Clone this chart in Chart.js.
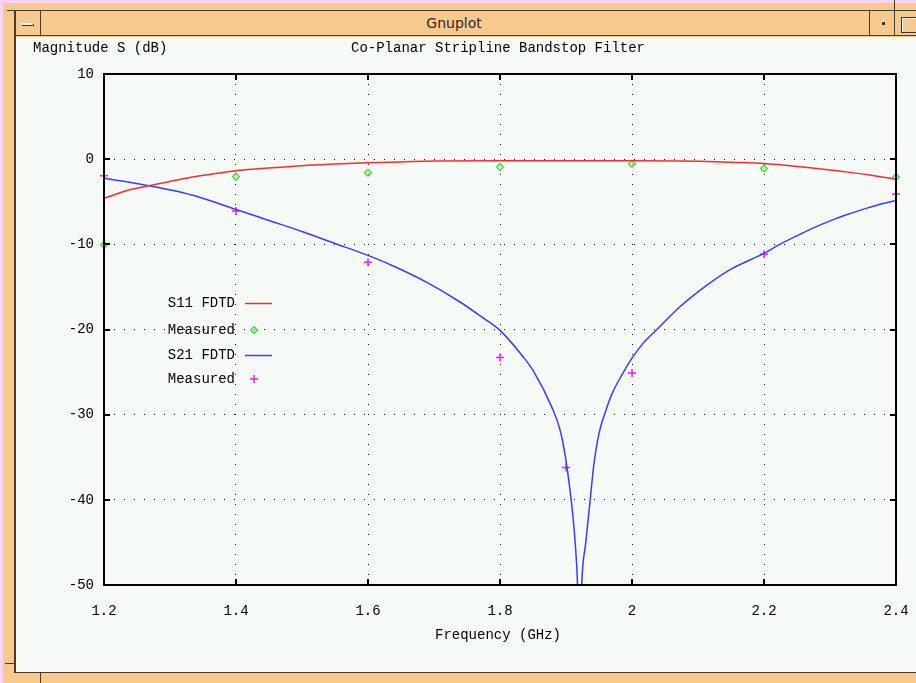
<!DOCTYPE html>
<html>
<head>
<meta charset="utf-8">
<title>Gnuplot</title>
<script src="https://cdn.jsdelivr.net/npm/chart.js@4.4.1/dist/chart.umd.min.js"></script>
<style>
  html, body { margin: 0; padding: 0; }
  body { width: 916px; height: 683px; position: relative; overflow: hidden; background: #f4d7ef; }
  .frame { position: absolute; left: 3px; top: 3px; width: 913px; height: 680px; background: #f8c98e; }
  .hline { position: absolute; height: 1px; background: #4a3a2a; }
  .vline { position: absolute; width: 1px; background: #4a3a2a; }
  .titlebar { position: absolute; left: 16px; top: 11px; width: 900px; height: 24px; background: #f8c98e;
              font: 14px "DejaVu Sans", sans-serif; color: #2a2a2a; text-align: center; line-height: 24px; }
  .titlebar span { position: relative; left: -12px; }
  .content { position: absolute; left: 16px; top: 37px; width: 900px; height: 635px; background: #f5faf6; }
  .btnmin { position: absolute; left: 21px; top: 23px; width: 12px; height: 2px; background: #f3f3f3;
            box-shadow: 1px 1px 0 #333; }
  .btnico { position: absolute; left: 882px; top: 22px; width: 3px; height: 3px; background: #333;
            box-shadow: -1px -1px 0 #fff; }
  .btnmax { position: absolute; left: 901px; top: 17px; width: 14px; height: 14px; border: 1px solid #333;
            box-shadow: inset 1px 1px 0 #fff; }
  .mark { position: absolute; background: #4a3a2a; }
  canvas { display: block; }
</style>
</head>
<body>
<div class="frame"></div>
<div class="hline" style="left:7px; top:10px; width:909px;"></div>
<div class="titlebar"><span>Gnuplot</span></div>
<div class="hline" style="left:14px; top:35px; width:902px;"></div>
<div class="vline" style="left:40px; top:10px; height:26px;"></div>
<div class="vline" style="left:869px; top:10px; height:26px;"></div>
<div class="vline" style="left:894px; top:0px; height:36px;"></div>
<div class="btnmin"></div>
<div class="btnico"></div>
<div class="btnmax"></div>
<div class="vline" style="left:14px; top:10px; width:2px; height:663px;"></div>
<div class="hline" style="left:14px; top:672px; width:902px;"></div>
<div class="mark" style="left:5px; top:663px; width:9px; height:1px;"></div>
<div class="mark" style="left:40px; top:673px; width:1px; height:10px;"></div>
<div class="content"><canvas id="c" width="900" height="635"></canvas></div>

<script>
// S11 from the FDTD simulation (frequency in GHz, magnitude in dB)
const freqS11 = [1.200, 1.234, 1.270, 1.320, 1.360, 1.400, 1.450, 1.500, 1.550, 1.600,
                 1.650, 1.700, 1.800, 1.900, 2.000, 2.100, 2.150, 2.200, 2.224, 2.270,
                 2.320, 2.360, 2.400];
const magS11  = [-4.6, -3.7, -3.1, -2.3, -1.8, -1.35, -1.05, -0.77, -0.58, -0.42,
                 -0.32, -0.22, -0.2, -0.2, -0.2, -0.25, -0.37, -0.5, -0.65, -1.0,
                 -1.45, -1.85, -2.35];

// S21 from the FDTD simulation
const freqS21 = [1.200, 1.234, 1.270, 1.320, 1.360, 1.400, 1.450, 1.500, 1.550, 1.600,
                 1.640, 1.690, 1.740, 1.770, 1.800, 1.835, 1.850, 1.879, 1.891, 1.899,
                 1.904, 1.909, 1.914, 1.9175, 1.9205, 1.9238, 1.930, 1.936, 1.942, 1.950,
                 1.960, 1.970, 1.985, 1.998, 2.017, 2.037, 2.073, 2.103, 2.148, 2.199,
                 2.224, 2.255, 2.274, 2.305, 2.326, 2.356, 2.376, 2.400];
const magS21  = [-2.25, -2.65, -3.15, -3.95, -4.85, -5.9, -7.2, -8.5, -9.9, -11.3,
                 -12.6, -14.5, -16.8, -18.4, -20.1, -23.2, -24.8, -29.2, -31.8, -34.9,
                 -37.6, -40.8, -45.1, -50.0, -60.0, -50.0, -45.0, -40.5, -36.0, -32.2,
                 -29.6, -27.5, -25.3, -23.6, -21.6, -20.05, -17.3, -15.4, -13.0, -11.1,
                 -10.0, -8.8, -8.1, -7.1, -6.5, -5.75, -5.3, -4.85];

// Measured values
const measFreqS11 = [1.2, 1.4, 1.6, 1.8, 2.0, 2.2, 2.4];
const measS11     = [-10.05, -2.05, -1.6, -0.9, -0.55, -1.1, -2.1];
const measFreqS21 = [1.2, 1.4, 1.6, 1.8, 1.9, 2.0, 2.2, 2.4];
const measS21     = [-1.95, -6.1, -12.1, -23.3, -36.2, -25.1, -11.15, -4.1];

// Axis ticks and texts
const xTickValues = [1.2, 1.4, 1.6, 1.8, 2.0, 2.2, 2.4];
const xTickLabels = ['1.2', '1.4', '1.6', '1.8', '2', '2.2', '2.4'];
const yTickValues = [10, 0, -10, -20, -30, -40, -50];
const yTickLabels = ['10', '0', '-10', '-20', '-30', '-40', '-50'];
const seriesNames = ['S11 FDTD', 'Measured', 'S21 FDTD', 'Measured'];
const chartTitle = 'Co-Planar Stripline Bandstop Filter';
const yTitle = 'Magnitude S (dB)';
const xTitle = 'Frequency (GHz)';

const pairs = (xs, ys) => xs.map((x, i) => ({ x: x, y: ys[i] }));

const MONO = "'Liberation Mono', 'DejaVu Sans Mono', monospace";
Chart.defaults.font.family = MONO;
Chart.defaults.font.size = 14;
Chart.defaults.color = '#000';

// Gnuplot-style decorations: frame box, inward ticks, texts, key
const gnuplotDecor = {
  id: 'gnuplotDecor',
  afterDatasetsDraw(chart) {
    const { ctx, chartArea: a, scales } = chart;
    ctx.save();
    // frame
    ctx.strokeStyle = '#000';
    ctx.lineWidth = 2;
    ctx.strokeRect(a.left, a.top, a.right - a.left, a.bottom - a.top);
    // inward tick marks on all four sides
    const tl = 6;
    ctx.beginPath();
    yTickValues.forEach(v => {
      const y = Math.round(scales.y.getPixelForValue(v));
      ctx.moveTo(a.left, y); ctx.lineTo(a.left + tl, y);
      ctx.moveTo(a.right, y); ctx.lineTo(a.right - tl, y);
    });
    xTickValues.forEach(v => {
      const x = Math.round(scales.x.getPixelForValue(v));
      ctx.moveTo(x, a.bottom); ctx.lineTo(x, a.bottom - tl);
      ctx.moveTo(x, a.top); ctx.lineTo(x, a.top + tl);
    });
    ctx.stroke();

    // texts
    ctx.fillStyle = '#000';
    ctx.font = '14px ' + MONO;
    ctx.textBaseline = 'middle';
    ctx.textAlign = 'left';
    ctx.fillText(yTitle, 17, 11);
    ctx.textAlign = 'center';
    ctx.fillText(chartTitle, (a.left + a.right) / 2 - 2, 11);
    ctx.fillText(xTitle, (a.left + a.right) / 2 - 2, a.bottom + 50);

    // key
    const rowY = [229, 256, 281, 305];
    const textRight = a.left + 131;
    chart.data.datasets.forEach((ds, i) => {
      const y = a.top + rowY[i];
      ctx.fillStyle = '#000';
      ctx.textAlign = 'right';
      ctx.fillText(seriesNames[i], textRight, y);
      if (ds.showLine !== false) {
        ctx.strokeStyle = ds.borderColor;
        ctx.lineWidth = ds.borderWidth;
        ctx.beginPath();
        ctx.moveTo(a.left + 141, y + 0.5);
        ctx.lineTo(a.left + 168, y + 0.5);
        ctx.stroke();
      } else {
        const px = a.left + 150;
        const r = ds.pointRadius;
        ctx.strokeStyle = ds.borderColor;
        ctx.fillStyle = ds.backgroundColor;
        ctx.lineWidth = ds.borderWidth;
        ctx.beginPath();
        if (ds.pointStyle === 'rectRot') {
          ctx.moveTo(px, y - r); ctx.lineTo(px + r, y); ctx.lineTo(px, y + r); ctx.lineTo(px - r, y); ctx.closePath();
          ctx.fill(); ctx.stroke();
        } else {
          ctx.moveTo(px - r, y); ctx.lineTo(px + r, y);
          ctx.moveTo(px, y - r); ctx.lineTo(px, y + r);
          ctx.stroke();
        }
      }
    });
    ctx.restore();
  }
};

new Chart(document.getElementById('c'), {
  type: 'line',
  data: {
    datasets: [
      { label: seriesNames[0], data: pairs(freqS11, magS11), borderColor: '#ff2a2a',
        borderWidth: 1.5, pointRadius: 0, cubicInterpolationMode: 'monotone', fill: false },
      { label: seriesNames[1], data: pairs(measFreqS11, measS11), showLine: false,
        pointStyle: 'rectRot', pointRadius: 3.5, borderColor: '#3fd63f', backgroundColor: 'rgba(150,240,150,0.6)',
        pointBorderColor: '#3fd63f', pointBackgroundColor: 'rgba(150,240,150,0.6)', borderWidth: 1.2,
        pointBorderWidth: 1.2, clip: false },
      { label: seriesNames[2], data: pairs(freqS21, magS21), borderColor: '#3b3bff',
        borderWidth: 1.5, pointRadius: 0, cubicInterpolationMode: 'monotone', fill: false },
      { label: seriesNames[3], data: pairs(measFreqS21, measS21), showLine: false,
        pointStyle: 'cross', pointRadius: 4, borderColor: '#ff1aff', backgroundColor: '#ff1aff',
        pointBorderColor: '#ff1aff', borderWidth: 1.5, pointBorderWidth: 1.5, clip: false }
    ]
  },
  options: {
    responsive: false,
    animation: false,
    layout: { padding: { top: 37, right: 20, bottom: 0, left: 0 } },
    plugins: { legend: { display: false }, title: { display: false }, tooltip: { enabled: false } },
    scales: {
      x: {
        type: 'linear', min: 1.2, max: 2.4,
        afterBuildTicks: s => { s.ticks = xTickValues.map(v => ({ value: v })); },
        afterFit: s => { s.height = 87; s.paddingLeft = 0; s.paddingRight = 0; },
        ticks: { padding: 18, callback: (v, i) => xTickLabels[i], maxRotation: 0, autoSkip: false },
        grid: { color: ctx => (ctx.index === 0 || ctx.index === xTickValues.length - 1) ? 'rgba(0,0,0,0)' : '#000',
                lineWidth: 1, drawTicks: false },
        border: { display: false, dash: [1, 9] }
      },
      y: {
        type: 'linear', min: -50, max: 10,
        afterBuildTicks: s => { s.ticks = yTickValues.map(v => ({ value: v })); },
        afterFit: s => { s.width = 88; s.paddingTop = 0; s.paddingBottom = 0; },
        ticks: { padding: 10, callback: (v, i) => yTickLabels[i], autoSkip: false },
        grid: { color: ctx => (ctx.index === 0 || ctx.index === yTickValues.length - 1) ? 'rgba(0,0,0,0)' : '#000',
                lineWidth: 1, drawTicks: false },
        border: { display: false, dash: [1, 9] }
      }
    }
  },
  plugins: [gnuplotDecor]
});
</script>
</body>
</html>
